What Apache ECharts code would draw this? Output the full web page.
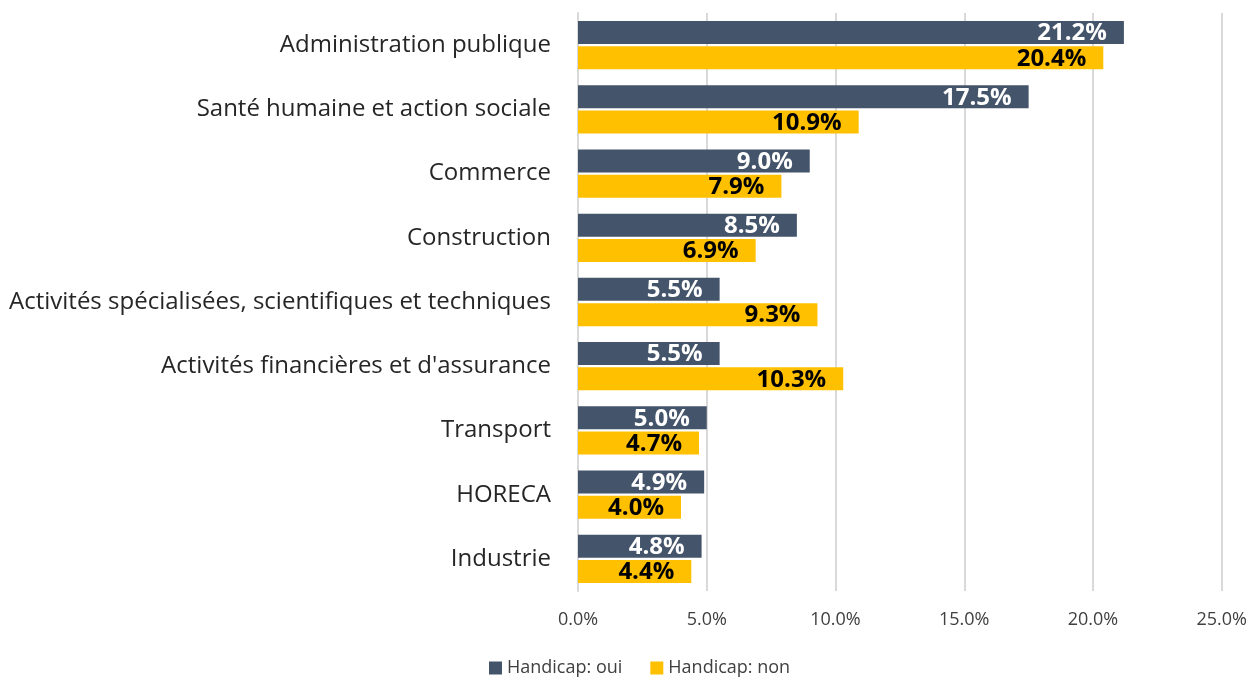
<!DOCTYPE html>
<html>
<head>
<meta charset="utf-8">
<script src="https://cdn.jsdelivr.net/npm/echarts@6/dist/echarts.min.js"></script>
<style>
  html, body { margin: 0; padding: 0; background: #fff; }
  #main { width: 1250px; height: 677px; }
</style>
</head>
<body>
<div id="main"></div>
<script>
// data, top to bottom
var categories = [
  'Administration publique',
  'Santé humaine et action sociale',
  'Commerce',
  'Construction',
  'Activités spécialisées, scientifiques et techniques',
  "Activités financières et d'assurance",
  'Transport',
  'HORECA',
  'Industrie'
];
var handicapOui = [21.2, 17.5, 9.0, 8.5, 5.5, 5.5, 5.0, 4.9, 4.8];
var handicapNon = [20.4, 10.9, 7.9, 6.9, 9.3, 10.3, 4.7, 4.0, 4.4];
var seriesNames = ['Handicap: oui', 'Handicap: non'];

var font = '"Open Sans", "Noto Sans", sans-serif';
var myChart = echarts.init(document.getElementById('main'));

function labelStyle(color) {
  return {
    show: true,
    position: 'insideRight',
    distance: 17,
    offset: [0, 1],
    color: color,
    fontFamily: font,
    fontWeight: 'bold',
    fontSize: 24,
    formatter: function (p) { return p.value.toFixed(1) + '%'; }
  };
}

myChart.setOption({
  animation: false,
  textStyle: { fontFamily: font },
  grid: { left: 578, right: 27, top: 13, height: 578 },
  legend: {
    top: 659,
    padding: 0,
    left: 489,
    itemWidth: 13,
    itemHeight: 13,
    itemGap: 28,
    icon: 'rect',
    textStyle: { fontSize: 18, color: '#404040', fontFamily: font },
    data: seriesNames
  },
  xAxis: {
    type: 'value',
    min: 0,
    max: 25,
    interval: 5,
    axisLine: { show: false },
    axisTick: { show: false },
    splitLine: { lineStyle: { color: '#d9d9d9', width: 2 } },
    axisLabel: {
      fontSize: 18,
      color: '#404040',
      margin: 20,
      formatter: function (v) { return v.toFixed(1) + '%'; }
    }
  },
  yAxis: {
    type: 'category',
    inverse: true,
    data: categories,
    axisLine: { show: true, lineStyle: { color: '#d9d9d9', width: 2 } },
    axisTick: { show: false },
    axisLabel: { fontSize: 24, color: '#262626', margin: 27 }
  },
  series: [
    {
      name: seriesNames[0],
      type: 'bar',
      data: handicapOui,
      barWidth: 23,
      barGap: '10%',
      itemStyle: { color: '#44546a' },
      label: labelStyle('#ffffff')
    },
    {
      name: seriesNames[1],
      type: 'bar',
      data: handicapNon,
      barWidth: 23,
      barGap: '10%',
      itemStyle: { color: '#ffc000' },
      label: labelStyle('#000000')
    }
  ]
});
</script>
</body>
</html>
